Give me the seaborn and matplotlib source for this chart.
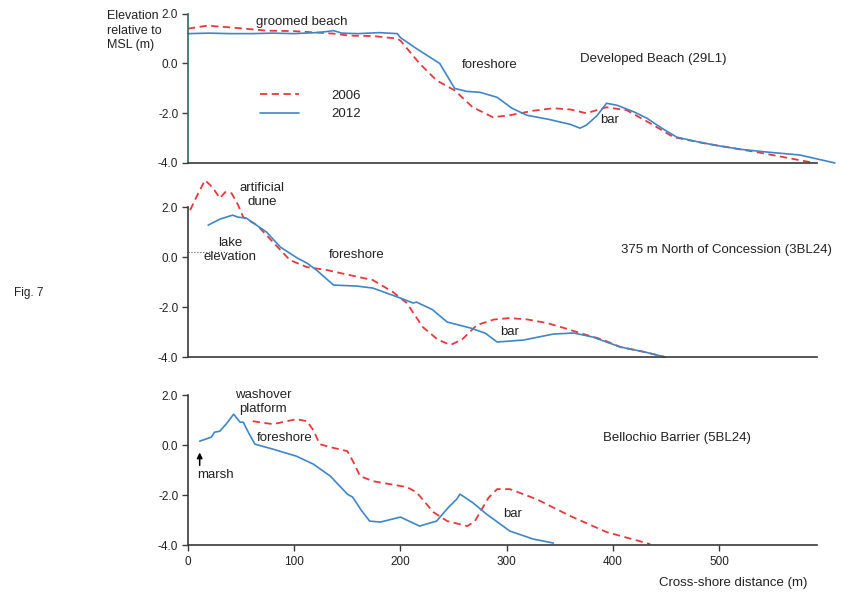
import numpy as np
import pandas as pd
import matplotlib
matplotlib.use("Agg")
import matplotlib.pyplot as plt
from matplotlib.ticker import FormatStrFormatter
import seaborn as sns

# ---------------- data ----------------
top_x_2012 = [0, 20, 40, 60, 80, 100, 120, 130, 137, 145, 160, 180, 197, 200, 215, 237, 251, 262, 275, 291, 305,
              319, 340, 360, 369, 375, 385, 394, 404, 420, 432, 446, 460, 480, 498, 520, 545, 576, 609]
top_y_2012 = [1.2, 1.22, 1.2, 1.2, 1.22, 1.2, 1.24, 1.28, 1.32, 1.22, 1.2, 1.24, 1.2, 1.04, 0.6, 0.0, -1.0, -1.12,
              -1.16, -1.36, -1.8, -2.08, -2.25, -2.45, -2.6, -2.48, -2.1, -1.6, -1.68, -1.95, -2.2, -2.6, -2.96,
              -3.15, -3.3, -3.45, -3.56, -3.68, -4.0]
top_x_2006 = [0, 18, 40, 74, 100, 137, 152, 175, 197, 200, 218, 234, 251, 268, 287, 303, 325, 344, 360, 375, 394,
              413, 435, 457, 485, 513, 540, 560, 590]
top_y_2006 = [1.4, 1.52, 1.45, 1.32, 1.3, 1.2, 1.12, 1.1, 1.0, 0.92, 0.0, -0.68, -1.08, -1.76, -2.16, -2.08, -1.9,
              -1.8, -1.85, -2.0, -1.76, -1.88, -2.4, -2.96, -3.2, -3.4, -3.6, -3.76, -4.0]

mid_x_2006 = [2, 9, 16, 23, 30, 35, 41, 47, 52, 65, 80, 96, 112, 131, 150, 174, 193, 206, 221, 235, 247, 258, 272,
              288, 303, 320, 338, 355, 369, 390, 407, 430, 449]
mid_y_2006 = [1.88, 2.5, 3.08, 2.8, 2.36, 2.6, 2.56, 2.1, 1.6, 1.28, 0.6, -0.12, -0.4, -0.52, -0.7, -0.92, -1.4,
              -1.84, -2.8, -3.3, -3.52, -3.3, -2.72, -2.5, -2.44, -2.5, -2.64, -2.85, -3.04, -3.3, -3.6, -3.8, -4.0]
mid_x_2012 = [19, 30, 42, 47, 55, 74, 87, 103, 112, 121, 137, 159, 174, 200, 212, 215, 230, 244, 266, 280, 291,
              316, 344, 363, 381, 407, 430, 449]
mid_y_2012 = [1.28, 1.52, 1.68, 1.6, 1.56, 1.0, 0.4, -0.04, -0.24, -0.52, -1.12, -1.16, -1.24, -1.64, -1.84, -1.8,
              -2.1, -2.6, -2.84, -3.05, -3.4, -3.32, -3.08, -3.04, -3.2, -3.6, -3.8, -4.0]
lake_x = [0, 37]
lake_y = [0.2, 0.2]

bot_x_2012 = [11, 22, 25, 30, 36, 43, 49, 52, 57, 63, 80, 102, 118, 134, 150, 155, 163, 171, 181, 200, 218, 234,
              245, 253, 256, 268, 281, 303, 325, 344]
bot_y_2012 = [0.16, 0.32, 0.52, 0.56, 0.85, 1.24, 0.92, 0.92, 0.5, 0.04, -0.16, -0.44, -0.76, -1.24, -1.96, -2.08,
              -2.6, -3.04, -3.08, -2.88, -3.24, -3.04, -2.5, -2.16, -1.96, -2.3, -2.76, -3.44, -3.76, -3.92]
bot_x_2006 = [61, 80, 102, 112, 118, 124, 134, 150, 156, 162, 174, 206, 215, 231, 244, 263, 270, 275, 283, 291,
              303, 328, 360, 394, 435]
bot_y_2006 = [0.96, 0.84, 1.04, 0.96, 0.6, 0.04, -0.08, -0.24, -0.7, -1.24, -1.44, -1.68, -1.88, -2.68, -3.04,
              -3.24, -3.05, -2.68, -2.1, -1.76, -1.76, -2.16, -2.84, -3.48, -3.96]

y_ticks = [-4.0, -2.0, 0.0, 2.0]
x_ticks = [0, 100, 200, 300, 400, 500]

# ---------------- style ----------------
sns.set_style("ticks")
plt.rcParams['font.family'] = ['Liberation Sans', 'DejaVu Sans']

RED = '#e8383b'
BLUE = '#3f86c6'
TXT = '#222222'
SPINE = '#3a3a3a'
DASH = (0, (4, 2.5))

fig = plt.figure(figsize=(8.43, 5.97), dpi=100)
L, W = 0.223, 0.746
ax_top = fig.add_axes([L, 0.727, W, 0.250])
ax_mid = fig.add_axes([L, 0.402, W, 0.251])
ax_bot = fig.add_axes([L, 0.087, W, 0.251])


def draw(ax, x06, y06, x12, y12):
    d06 = pd.DataFrame({'x': x06, 'y': y06})
    d12 = pd.DataFrame({'x': x12, 'y': y12})
    sns.lineplot(data=d06, x='x', y='y', ax=ax, color=RED, lw=1.3, sort=False,
                 estimator=None, clip_on=False, legend=False, linestyle=DASH)
    sns.lineplot(data=d12, x='x', y='y', ax=ax, color=BLUE, lw=1.2, sort=False,
                 estimator=None, clip_on=False, legend=False)
    ax.set_xlim(0, 592)
    ax.set_ylim(-4, 2)
    ax.set_yticks(y_ticks)
    ax.yaxis.set_major_formatter(FormatStrFormatter('%.1f'))
    ax.set_xlabel('')
    ax.set_ylabel('')
    for s in ['top', 'right']:
        ax.spines[s].set_visible(False)
    for s in ['left', 'bottom']:
        ax.spines[s].set_color(SPINE)
        ax.spines[s].set_linewidth(1.2)
    ax.tick_params(axis='y', direction='out', length=4, width=1, color=SPINE,
                   labelsize=8.5, pad=3, labelcolor=TXT)
    ax.patch.set_alpha(0)


draw(ax_top, top_x_2006, top_y_2006, top_x_2012, top_y_2012)
draw(ax_mid, mid_x_2006, mid_y_2006, mid_x_2012, mid_y_2012)
draw(ax_bot, bot_x_2006, bot_y_2006, bot_x_2012, bot_y_2012)

ax_top.spines['left'].set_color('#2d6b5c')

for ax in (ax_top, ax_mid):
    ax.set_xticks([])
ax_bot.set_xticks(x_ticks)
ax_bot.tick_params(axis='x', direction='out', length=4, width=1, color=SPINE,
                   labelsize=8.5, pad=4, labelcolor=TXT)

# legend in top panel (uses the plotted lines of the top panel)
lines = ax_top.get_lines()
leg = ax_top.legend(lines[:2], ['2006', '2012'], loc='upper left', bbox_to_anchor=(0.114, 0.49),
                    frameon=False, borderpad=0, borderaxespad=0, handlelength=3.0,
                    handletextpad=2.4, labelspacing=0.45, fontsize=9.5)
for t in leg.get_texts():
    t.set_color(TXT)

fs = 9.5
kw = dict(fontsize=fs, color=TXT, ha='center', va='center')

# top annotations
ax_top.text(107, 1.68, 'groomed beach', **kw)
ax_top.text(284, -0.08, 'foreshore', **kw)
ax_top.text(438, 0.2, 'Developed Beach (29L1)', **kw)
ax_top.text(397, -2.28, 'bar', **kw)

# middle annotations
sns.lineplot(x=lake_x, y=lake_y, ax=ax_mid, color='#555555', lw=0.8, linestyle=':',
             clip_on=False, legend=False)
ax_mid.text(70, 2.48, 'artificial\ndune', linespacing=1.25, **kw)
ax_mid.text(40, 0.28, 'lake\nelevation', linespacing=1.25, **kw)
ax_mid.text(159, 0.08, 'foreshore', **kw)
ax_mid.text(507, 0.28, '375 m North of Concession (3BL24)', **kw)
ax_mid.text(303, -3.0, 'bar', **kw)

# bottom annotations
ax_bot.text(71, 1.72, 'washover\nplatform', linespacing=1.25, **kw)
ax_bot.text(91, 0.28, 'foreshore', **kw)
ax_bot.text(460, 0.28, 'Bellochio Barrier (5BL24)', **kw)
ax_bot.text(306, -2.76, 'bar', **kw)
ax_bot.annotate('', xy=(11, -0.18), xytext=(11, -0.92),
                arrowprops=dict(arrowstyle='-|>', color='black', lw=1.1, mutation_scale=8))
ax_bot.text(26, -1.18, 'marsh', **kw)

# figure texts
fig.text(107 / 843, 1 - 10 / 597, 'Elevation\nrelative to\nMSL (m)', ha='left', va='top',
         fontsize=9, color=TXT, linespacing=1.3)
fig.text(807 / 843, 1 - 583 / 597, 'Cross-shore distance (m)', ha='right', va='center',
         fontsize=9.5, color=TXT)
fig.text(14 / 843, 1 - 293 / 597, 'Fig. 7', ha='left', va='center', fontsize=8.5, color=TXT)

fig.savefig('out.png', dpi=100, facecolor='white')
